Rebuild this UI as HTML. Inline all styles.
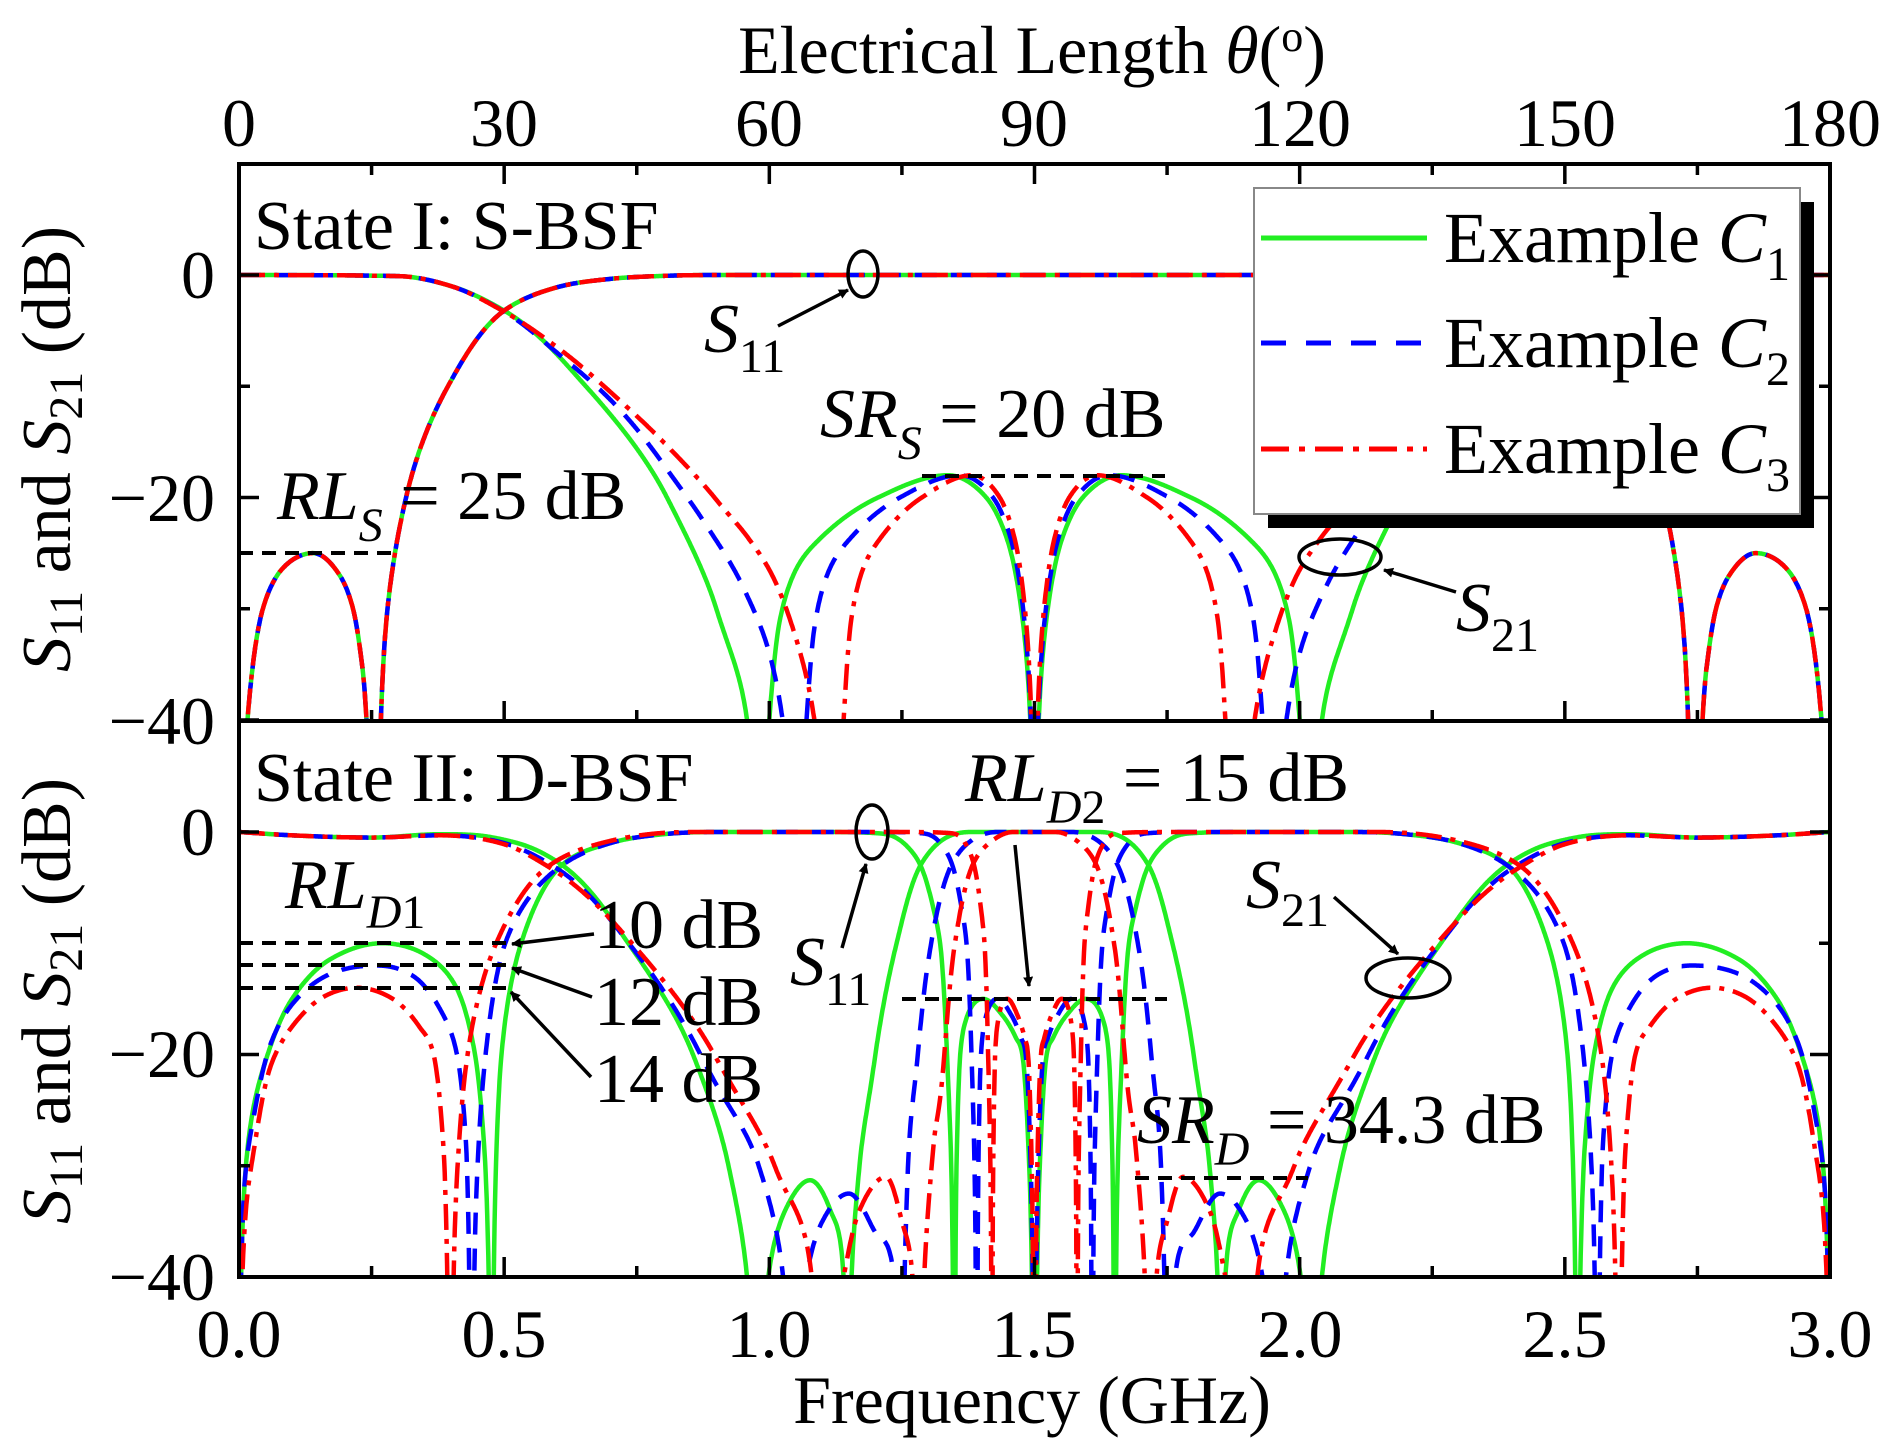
<!DOCTYPE html>
<html><head><meta charset="utf-8"><style>
html,body{margin:0;padding:0;background:#fff;}
svg{display:block;}
text{font-family:"Liberation Serif","DejaVu Serif",serif;fill:#000;}
.it{font-style:italic;}
</style></head><body>
<svg id="s" width="1903" height="1455" viewBox="0 0 1903 1455" xmlns="http://www.w3.org/2000/svg">
<defs>
<clipPath id="cu"><rect x="239" y="164" width="1591" height="557"/></clipPath>
<clipPath id="cl"><rect x="239" y="721" width="1591" height="556"/></clipPath>
<marker id="ah" markerWidth="10" markerHeight="10" refX="9" refY="5" orient="auto" markerUnits="userSpaceOnUse" viewBox="0 0 10 10"><path d="M0,0 L10,5 L0,10 z" fill="#000"/></marker>
</defs>
<rect x="0" y="0" width="1903" height="1455" fill="#fff"/>
<g id="curvesU" clip-path="url(#cu)"></g>
<g id="curvesL" clip-path="url(#cl)"></g>
<g id="axes" stroke="#000" fill="none"></g>

<rect x="239" y="164" width="1591" height="1113" fill="none" stroke="#000" stroke-width="4"/>
<line x1="239" y1="721" x2="1830" y2="721" stroke="#000" stroke-width="4"/>

<g font-size="68" text-anchor="middle">
<text x="239" y="146">0</text><text x="504" y="146">30</text><text x="769" y="146">60</text>
<text x="1034" y="146">90</text><text x="1300" y="146">120</text><text x="1565" y="146">150</text><text x="1830" y="146">180</text>
<text x="239" y="1357">0.0</text><text x="504" y="1357">0.5</text><text x="769" y="1357">1.0</text>
<text x="1034" y="1357">1.5</text><text x="1300" y="1357">2.0</text><text x="1565" y="1357">2.5</text><text x="1830" y="1357">3.0</text>
</g>
<g font-size="68" text-anchor="end">
<text x="215" y="298">0</text><text x="215" y="521">−20</text><text x="215" y="744">−40</text>
<text x="215" y="855">0</text><text x="215" y="1077">−20</text><text x="215" y="1300">−40</text>
</g>
<text x="1032" y="73" font-size="68" text-anchor="middle">Electrical Length <tspan class="it">θ</tspan>(<tspan dy="-22" font-size="44">o</tspan><tspan dy="22">)</tspan></text>
<text x="1032" y="1423" font-size="68" text-anchor="middle">Frequency (GHz)</text>

<g font-size="70">
<text transform="translate(70,449) rotate(-90)" text-anchor="middle"><tspan class="it">S</tspan><tspan font-size="48" dy="12">11</tspan><tspan dy="-12"> and </tspan><tspan class="it">S</tspan><tspan font-size="48" dy="12">21</tspan><tspan dy="-12"> (dB)</tspan></text>
<text transform="translate(70,1001) rotate(-90)" text-anchor="middle"><tspan class="it">S</tspan><tspan font-size="48" dy="12">11</tspan><tspan dy="-12"> and </tspan><tspan class="it">S</tspan><tspan font-size="48" dy="12">21</tspan><tspan dy="-12"> (dB)</tspan></text>
</g>

<g font-size="70">
<text x="254" y="249">State I: S-BSF</text>
<text x="704" y="352"><tspan class="it">S</tspan><tspan font-size="48" dy="20">11</tspan></text>
<text x="820" y="437"><tspan class="it">SR</tspan><tspan class="it" font-size="48" dy="22">S</tspan><tspan dy="-22"> = 20 dB</tspan></text>
<text x="277" y="519"><tspan class="it">RL</tspan><tspan class="it" font-size="48" dy="22">S</tspan><tspan dy="-22"> = 25 dB</tspan></text>
<text x="1456" y="631"><tspan class="it">S</tspan><tspan font-size="48" dy="20">21</tspan></text>
</g>
<g stroke="#000" stroke-width="4" fill="none">
<line x1="922" y1="476" x2="1165" y2="476" stroke-dasharray="14 9"/>
<line x1="239" y1="553" x2="394" y2="553" stroke-dasharray="14 9"/>
<ellipse cx="863" cy="274" rx="15" ry="23" stroke-width="3.5"/>
<ellipse cx="1340" cy="557" rx="41" ry="18" stroke-width="3.5"/>
<line x1="778" y1="326" x2="848" y2="290" stroke-width="3.5" marker-end="url(#ah)"/>
<line x1="1456" y1="592" x2="1384" y2="570" stroke-width="3.5" marker-end="url(#ah)"/>
</g>

<rect x="1268" y="202" width="546" height="326" fill="#000"/>
<rect x="1254" y="188" width="546" height="326" fill="#fff" stroke="#888" stroke-width="2"/>
<line x1="1261" y1="238" x2="1427" y2="238" stroke="#22ee22" stroke-width="5"/>
<line x1="1261" y1="343" x2="1427" y2="343" stroke="#0000ff" stroke-width="5" stroke-dasharray="25 20"/>
<line x1="1261" y1="449" x2="1427" y2="449" stroke="#ff0000" stroke-width="5" stroke-dasharray="28 10 6 10"/>
<g font-size="72">
<text x="1444" y="262">Example <tspan class="it">C</tspan><tspan font-size="48" dy="18">1</tspan></text>
<text x="1444" y="367">Example <tspan class="it">C</tspan><tspan font-size="48" dy="18">2</tspan></text>
<text x="1444" y="473">Example <tspan class="it">C</tspan><tspan font-size="48" dy="18">3</tspan></text>
</g>

<g font-size="70">
<text x="254" y="801">State II: D-BSF</text>
<text x="285" y="908"><tspan class="it">RL</tspan><tspan class="it" font-size="48" dy="20">D</tspan><tspan font-size="48">1</tspan></text>
<text x="594" y="948">10 dB</text>
<text x="594" y="1025">12 dB</text>
<text x="594" y="1102">14 dB</text>
<text x="790" y="985"><tspan class="it">S</tspan><tspan font-size="48" dy="20">11</tspan></text>
<text x="965" y="801"><tspan class="it">RL</tspan><tspan class="it" font-size="48" dy="22">D</tspan><tspan font-size="48">2</tspan><tspan dy="-22"> = 15 dB</tspan></text>
<text x="1137" y="1143"><tspan class="it">SR</tspan><tspan class="it" font-size="48" dy="22">D</tspan><tspan dy="-22"> = 34.3 dB</tspan></text>
<text x="1246" y="908"><tspan class="it">S</tspan><tspan font-size="48" dy="18">21</tspan></text>
</g>
<g stroke="#000" stroke-width="4" fill="none">
<line x1="239" y1="943" x2="510" y2="943" stroke-dasharray="14 9"/>
<line x1="239" y1="965" x2="510" y2="965" stroke-dasharray="14 9"/>
<line x1="239" y1="988" x2="510" y2="988" stroke-dasharray="14 9"/>
<line x1="902" y1="999" x2="1167" y2="999" stroke-dasharray="14 9"/>
<line x1="1135" y1="1178" x2="1308" y2="1178" stroke-dasharray="14 9"/>
<ellipse cx="872" cy="832" rx="16" ry="27" stroke-width="3.5"/>
<ellipse cx="1408" cy="978" rx="42" ry="20" stroke-width="3.5"/>
<line x1="594" y1="934" x2="512" y2="944" stroke-width="3.5" marker-end="url(#ah)"/>
<line x1="592" y1="997" x2="512" y2="968" stroke-width="3.5" marker-end="url(#ah)"/>
<line x1="591" y1="1077" x2="511" y2="992" stroke-width="3.5" marker-end="url(#ah)"/>
<line x1="842" y1="948" x2="866" y2="864" stroke-width="3.5" marker-end="url(#ah)"/>
<line x1="1015" y1="845" x2="1029" y2="986" stroke-width="3.5" marker-end="url(#ah)"/>
<line x1="1334" y1="897" x2="1398" y2="954" stroke-width="3.5" marker-end="url(#ah)"/>
</g>
</svg>
<script>
(function(){
var NS="http://www.w3.org/2000/svg";
function X(f){return 239+f*530.33;}
function mono(p){
 var n=p.length,xs=p.map(a=>a[0]),ys=p.map(a=>a[1]),d=[],m=[];
 for(var i=0;i<n-1;i++)d.push((ys[i+1]-ys[i])/(xs[i+1]-xs[i]));
 m[0]=d[0];m[n-1]=d[n-2];
 for(i=1;i<n-1;i++){ if(d[i-1]*d[i]<=0)m[i]=0; else m[i]=(d[i-1]+d[i])/2; }
 for(i=0;i<n-1;i++){ if(d[i]==0){m[i]=0;m[i+1]=0;continue;}
  var a=m[i]/d[i],b=m[i+1]/d[i],s=a*a+b*b; if(s>9){var t=3/Math.sqrt(s);m[i]=t*a*d[i];m[i+1]=t*b*d[i];}}
 var out=[];
 for(i=0;i<n-1;i++){var h=xs[i+1]-xs[i];var N=Math.max(2,Math.ceil(h/0.001));
  for(var k=0;k<N;k++){var t=k/N,t2=t*t,t3=t2*t;
   var y=(2*t3-3*t2+1)*ys[i]+(t3-2*t2+t)*h*m[i]+(-2*t3+3*t2)*ys[i+1]+(t3-t2)*h*m[i+1];
   out.push([xs[i]+t*h,y]);}}
 out.push([xs[n-1],ys[n-1]]);return out;}
function mirror(p){var r=p.slice();for(var i=p.length-1;i>=0;i--){if(p[i][0]<1.5-1e-9)r.push([3-p[i][0],p[i][1]]);}return r;}
function scaleMid(p,s){return p.map(a=>[1.5-(1.5-a[0])*s,a[1]]);}
var styles={g:{c:"#22ee22",d:""},b:{c:"#0000ff",d:"22 14"},r:{c:"#ff0000",d:"26 9 5 9"}};
function draw(gid,pts,st,y0){
 var lin=pts.map(a=>[a[0],a[1]<=-60?0:Math.pow(10,a[1]/20)]);
 var s=mono(lin),dd="";
 for(var i=0;i<s.length;i++){var db=20*Math.log10(Math.max(Math.abs(s[i][1]),1e-4));
  var y=y0-Math.max(db,-48)*11.125;dd+=(i?"L":"M")+X(s[i][0]).toFixed(1)+","+y.toFixed(1);}
 var e=document.createElementNS(NS,"path");e.setAttribute("d",dd);e.setAttribute("fill","none");
 e.setAttribute("stroke",styles[st].c);e.setAttribute("stroke-width","4.5");e.setAttribute("stroke-linejoin","round");
 if(styles[st].d)e.setAttribute("stroke-dasharray",styles[st].d);
 document.getElementById(gid).appendChild(e);}
var B=[[0,-70],[0.016,-40],[0.045,-30],[0.08,-26.5],[0.14,-25],[0.19,-27],[0.215,-30],[0.232,-35],[0.256,-70],[0.28,-30],[0.315,-20],[0.394,-10],[0.5,-3.2],[0.6,-1.1],[0.7,-0.35],[0.8,-0.08],[0.9,0],[1.5,0]];
var Cg=[[1.0,-40],[1.02,-31],[1.05,-26.5],[1.1,-23.5],[1.205,-20],[1.337,-18],[1.409,-20],[1.45,-24],[1.475,-30],[1.492,-40],[1.5,-70]];
function Cs(s){return Cg.map(a=>[1.5-(1.5-a[0])*s,a[1]]);}
var Ag=[[0,0],[0.3,-0.1],[0.4,-1],[0.5,-3.2],[0.654,-10],[0.807,-20],[0.9,-30],[0.958,-40],[0.982,-70]].concat(Cg);
var Ab=[[0,0],[0.3,-0.1],[0.4,-1],[0.5,-3.3],[0.6,-7],[0.7,-11.2],[0.8,-17],[0.87,-21.7],[0.95,-28],[1.0,-34],[1.025,-40],[1.05,-70]].concat(Cs(0.86));
var Ar=[[0,0],[0.3,-0.1],[0.4,-1],[0.5,-3.3],[0.6,-6.5],[0.7,-10.5],[0.8,-15],[0.9,-20.2],[0.958,-23.5],[1.0,-26.5],[1.046,-32],[1.085,-40],[1.113,-70]].concat(Cs(0.72));
[["g",Ag],["b",Ab],["r",Ar]].forEach(function(q){draw("curvesU",mirror(B),q[0],275);draw("curvesU",mirror(q[1]),q[0],275);});
var Gg=[[1.2,-0.1],[1.234,-0.4],[1.26,-1.3],[1.285,-3],[1.31,-7],[1.322,-10],[1.335,-20],[1.343,-30],[1.349,-70],[1.353,-30],[1.36,-20],[1.37,-17],[1.403,-15],[1.44,-16.5],[1.465,-18.5],[1.477,-20],[1.49,-30],[1.5,-70]];
var Dg=[[0,-70],[0.013,-30],[0.054,-20],[0.1,-15],[0.17,-11.5],[0.27,-10],[0.35,-11],[0.41,-14],[0.445,-20],[0.462,-28],[0.477,-70],[0.482,-35],[0.495,-20],[0.532,-10],[0.606,-3.1],[0.7,-1],[0.8,-0.2],[0.9,0],[1.1,0]].concat(Gg);
var Db=[[0,-70],[0.01,-32],[0.03,-25],[0.06,-19],[0.1,-15.5],[0.17,-12.8],[0.26,-12],[0.33,-13],[0.38,-16],[0.411,-20],[0.428,-28],[0.438,-70],[0.448,-32],[0.465,-20],[0.502,-10],[0.6,-3.3],[0.7,-1],[0.8,-0.2],[0.9,0],[1.2,0]].concat(scaleMid(Gg,0.72));
var Dr=[[0,-70],[0.013,-34],[0.03,-28],[0.06,-21],[0.1,-17.5],[0.16,-14.8],[0.222,-14],[0.29,-15],[0.34,-17.5],[0.367,-20],[0.385,-28],[0.398,-70],[0.41,-32],[0.431,-20],[0.485,-10],[0.58,-3.2],[0.7,-0.8],[0.85,0],[1.25,0]].concat(scaleMid(Gg,0.53));
var Eg=[[0,0],[0.1,-0.3],[0.25,-0.5],[0.38,-0.2],[0.45,-0.3],[0.5,-0.7],[0.55,-1.4],[0.61,-3],[0.734,-10],[0.856,-20],[0.923,-30],[0.958,-40],[0.978,-70],[0.998,-40],[1.03,-34],[1.077,-31.3],[1.115,-34],[1.14,-40],[1.147,-70],[1.155,-40],[1.17,-30],[1.2,-20],[1.24,-10],[1.285,-3],[1.33,-0.6],[1.38,0],[1.5,0]];
var Eb=[[0,0],[0.1,-0.3],[0.25,-0.5],[0.38,-0.3],[0.5,-1],[0.6,-3.3],[0.74,-10.3],[0.87,-20],[0.98,-30],[1.026,-40],[1.045,-70],[1.07,-40],[1.1,-35],[1.15,-32.5],[1.2,-36],[1.235,-40],[1.245,-70],[1.255,-40],[1.265,-27],[1.28,-20],[1.3,-11.5],[1.343,-3],[1.38,-0.8],[1.43,0],[1.5,0]];
var Er=[[0,0],[0.1,-0.3],[0.25,-0.5],[0.38,-0.3],[0.5,-1.1],[0.586,-3.2],[0.75,-10.5],[0.896,-20],[1.01,-30],[1.08,-40],[1.095,-70],[1.14,-40],[1.17,-34],[1.22,-31],[1.25,-35],[1.27,-40],[1.28,-70],[1.292,-40],[1.31,-28],[1.33,-20],[1.35,-10],[1.383,-3],[1.42,-0.8],[1.46,0],[1.5,0]];
[["g",Dg,Eg],["b",Db,Eb],["r",Dr,Er]].forEach(function(q){draw("curvesL",mirror(q[1]),q[0],832);draw("curvesL",mirror(q[2]),q[0],832);});
var ax=document.getElementById("axes"),t="";
function L(x1,y1,x2,y2){t+="M"+x1+","+y1+"L"+x2+","+y2;}
for(var i=0;i<=12;i++){var x=239+i*1591/12,len=(i%2==0)?20:11;
 L(x,164,x,164+len);L(x,721,x,721-len);L(x,1277,x,1277-len);}
[0,-10,-20,-30,-40].forEach(function(d){var len=(d%20==0)?20:11;
 [275,832].forEach(function(y0){var y=y0-d*11.125;L(239,y,239+len,y);L(1830,y,1830-len,y);});});
var p=document.createElementNS(NS,"path");p.setAttribute("d",t);p.setAttribute("stroke","#000");p.setAttribute("stroke-width","3.5");ax.appendChild(p);
})();
</script>
</body></html>
